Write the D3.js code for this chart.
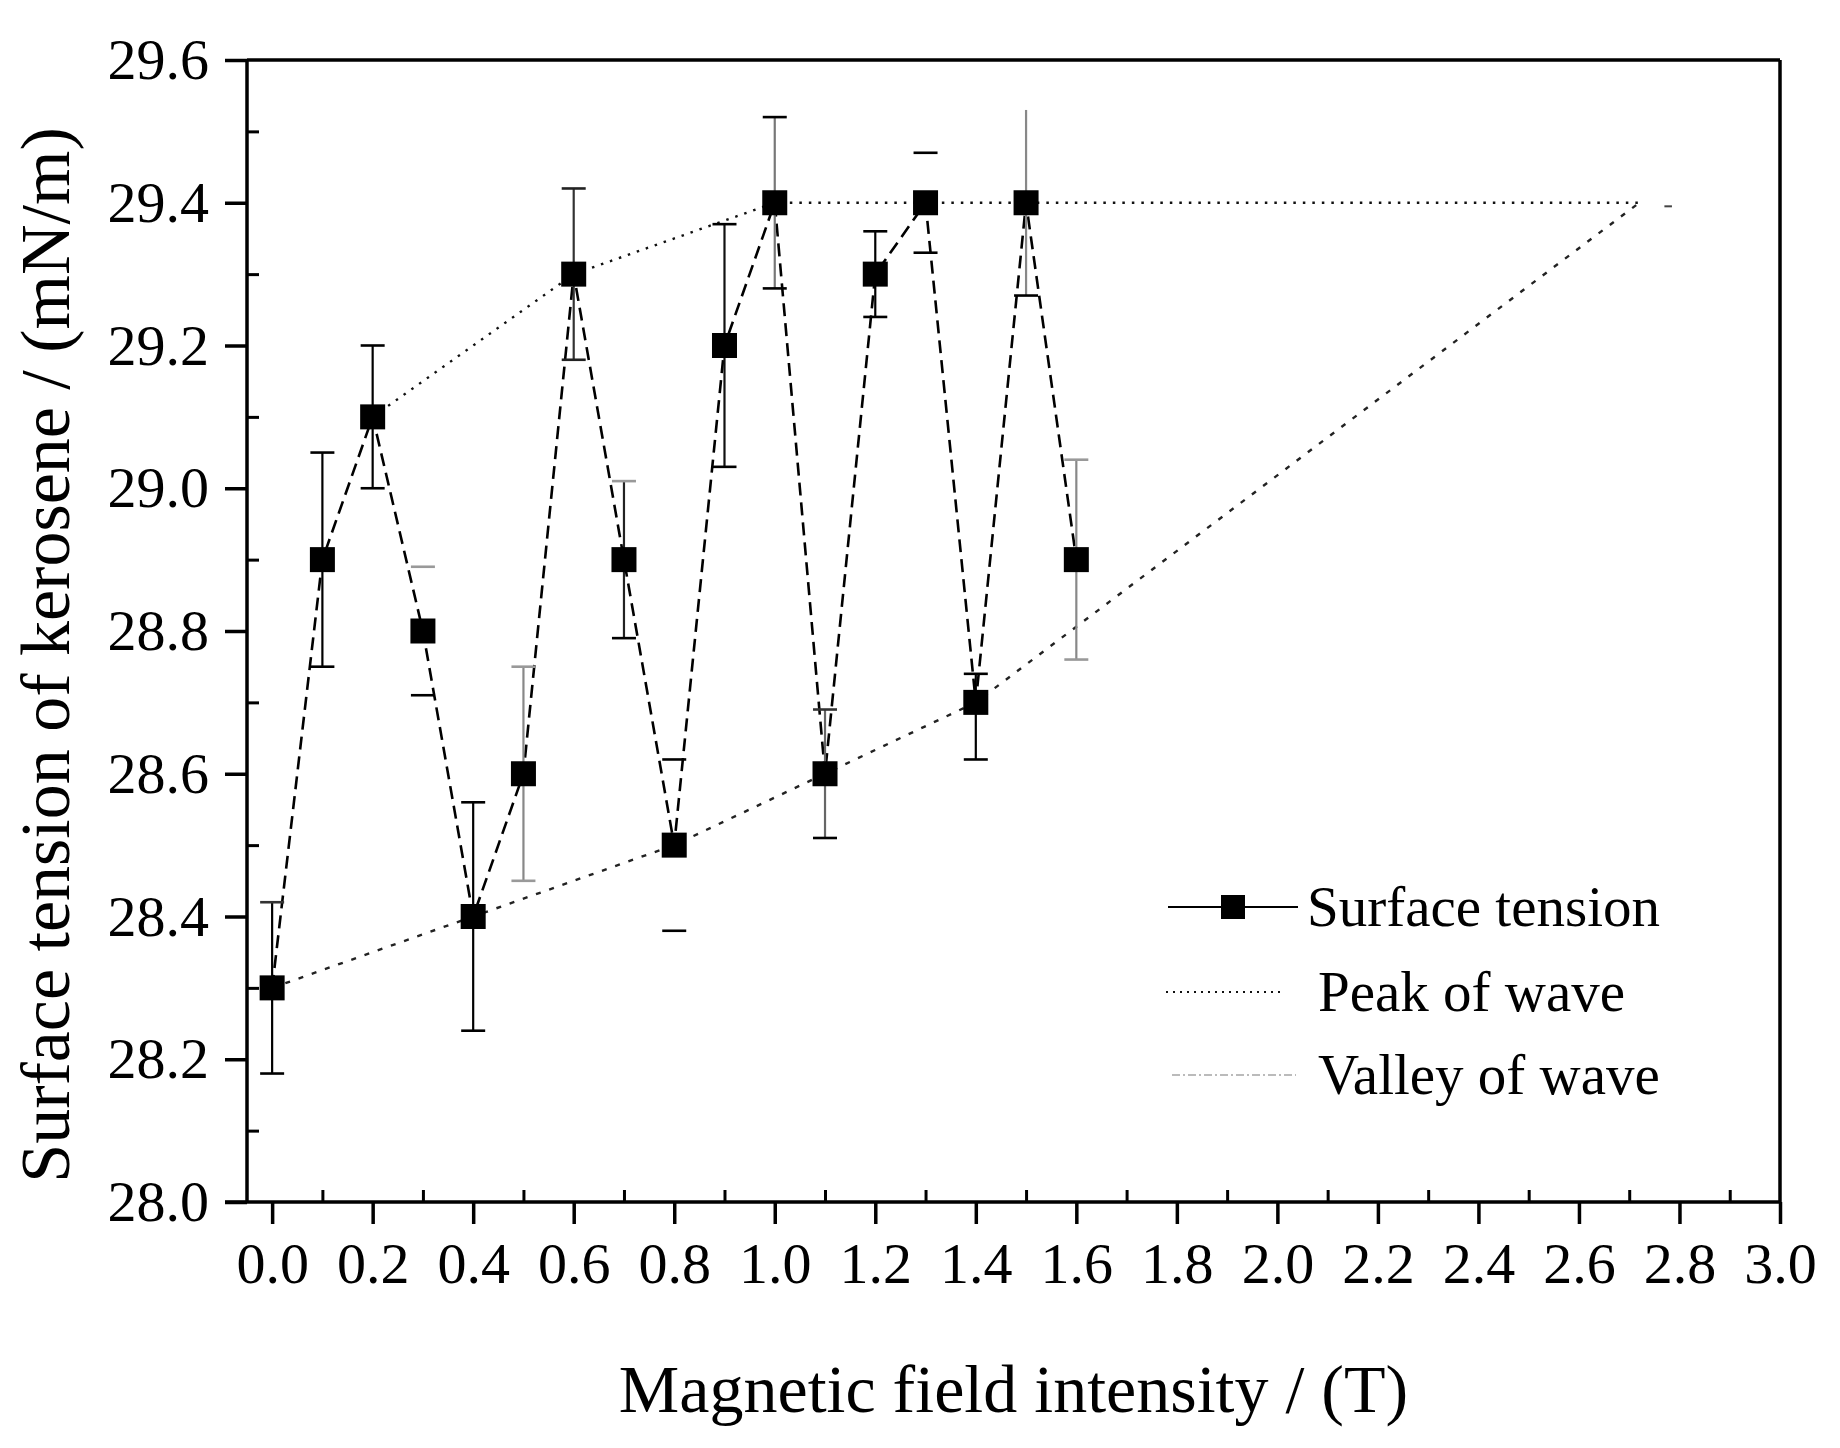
<!DOCTYPE html>
<html>
<head>
<meta charset="utf-8">
<script src="https://cdn.jsdelivr.net/npm/d3@7"></script>
<style>
  html, body { margin: 0; padding: 0; background: #fff; }
  text { font-family: "Liberation Serif", "Times New Roman", serif; fill: #000; }
</style>
</head>
<body>
<svg id="chart" width="1840" height="1448"></svg>
<script>
// ---------- data ----------
const fieldT = [0.0, 0.1, 0.2, 0.3, 0.4, 0.5, 0.6, 0.7, 0.8, 0.9, 1.0, 1.1, 1.2, 1.3, 1.4, 1.5, 1.6];
const tension = [28.3, 28.9, 29.1, 28.8, 28.4, 28.6, 29.3, 28.9, 28.5, 29.2, 29.4, 28.6, 29.3, 29.4, 28.7, 29.4, 28.9];
const errUpper = [28.42, 29.05, 29.20, 28.89, 28.56, 28.75, 29.42, 29.01, 28.62, 29.37, 29.52, 28.69, 29.36, 29.47, 28.74, 29.53, 29.04];
const errLower = [28.18, 28.75, 29.00, 28.71, 28.24, 28.45, 29.18, 28.79, 28.38, 29.03, 29.28, 28.51, 29.24, 29.33, 28.62, 29.27, 28.76];

const peakX = [0.2, 0.6, 1.0, 1.3, 1.5, 2.72];
const peakY = [29.1, 29.3, 29.4, 29.4, 29.4, 29.4];
const valleyX = [0.0, 0.4, 0.8, 1.1, 1.4, 2.72];
const valleyY = [28.3, 28.4, 28.5, 28.6, 28.7, 29.4];

const xTicks = [0.0, 0.2, 0.4, 0.6, 0.8, 1.0, 1.2, 1.4, 1.6, 1.8, 2.0, 2.2, 2.4, 2.6, 2.8, 3.0];
const xMinor = [0.1, 0.3, 0.5, 0.7, 0.9, 1.1, 1.3, 1.5, 1.7, 1.9, 2.1, 2.3, 2.5, 2.7, 2.9];
const yTicks = [28.0, 28.2, 28.4, 28.6, 28.8, 29.0, 29.2, 29.4, 29.6];
const yMinor = [28.1, 28.3, 28.5, 28.7, 28.9, 29.1, 29.3, 29.5];

const legendLabels = ["Surface tension", "Peak of wave", "Valley of wave"];
const xTitle = "Magnetic field intensity / (T)";
const yTitle = "Surface tension of kerosene / (mN/m)";

// ---------- styles (per error bar) ----------
const errLineColor = ["#000", "#000", "#000", "none", "#000", "#888", "#333", "#222", "none", "#111", "#777", "#666", "#000", "none", "#000", "#888", "#888"];
const errTopCapColor = ["#333", "#000", "#000", "#999", "#000", "#999", "#222", "#999", "#000", "#000", "#000", "#333", "#000", "#000", "#000", "none", "#999"];
const errBotCapColor = ["#000", "#000", "#000", "#000", "#000", "#999", "#222", "#000", "#000", "#000", "#000", "#000", "#000", "#000", "#000", "#000", "#999"];

// ---------- layout ----------
const L = 247, R = 1780, T = 60, B = 1202;
const svg = d3.select("#chart");
const x = d3.scaleLinear().domain([-0.05, 3.0]).range([L, R]);
const y = d3.scaleLinear().domain([28.0, 29.6]).range([B, T]);

// peak & valley guide lines
const peakData = peakX.map((v, i) => [v, peakY[i]]);
const valleyData = valleyX.map((v, i) => [v, valleyY[i]]);
const lineGen = d3.line().x(d => x(d[0])).y(d => y(d[1]));

svg.append("path").attr("d", lineGen(valleyData))
  .attr("fill", "none").attr("stroke", "#222").attr("stroke-width", 2.4)
  .attr("stroke-dasharray", "5,9");
svg.append("path").attr("d", lineGen(peakData))
  .attr("fill", "none").attr("stroke", "#111").attr("stroke-width", 2.4)
  .attr("stroke-dasharray", "2.5,7");
// small tail dash at 2.8
svg.append("line").attr("x1", x(2.77)).attr("x2", x(2.785))
  .attr("y1", y(29.395)).attr("y2", y(29.395))
  .attr("stroke", "#444").attr("stroke-width", 2);

// main dashed line
const mainData = fieldT.map((v, i) => [v, tension[i]]);
svg.append("path").attr("d", lineGen(mainData))
  .attr("fill", "none").attr("stroke", "#000").attr("stroke-width", 2.6)
  .attr("stroke-dasharray", "13,7");

// error bars
const capW = 12;
const eb = svg.append("g");
fieldT.forEach((v, i) => {
  const cx = x(v);
  eb.append("line").attr("x1", cx).attr("x2", cx)
    .attr("y1", y(errUpper[i])).attr("y2", y(errLower[i]))
    .attr("stroke", errLineColor[i]).attr("stroke-width", 2.2);
  eb.append("line").attr("x1", cx - capW).attr("x2", cx + capW)
    .attr("y1", y(errUpper[i])).attr("y2", y(errUpper[i]))
    .attr("stroke", errTopCapColor[i]).attr("stroke-width", 2.6);
  eb.append("line").attr("x1", cx - capW).attr("x2", cx + capW)
    .attr("y1", y(errLower[i])).attr("y2", y(errLower[i]))
    .attr("stroke", errBotCapColor[i]).attr("stroke-width", 2.6);
});

// markers
const ms = 25;
svg.append("g").selectAll("rect").data(mainData).join("rect")
  .attr("x", d => x(d[0]) - ms / 2).attr("y", d => y(d[1]) - ms / 2)
  .attr("width", ms).attr("height", ms).attr("fill", "#000");

// frame
const frame = svg.append("g");
frame.append("line").attr("x1", L).attr("x2", R).attr("y1", T).attr("y2", T).attr("stroke", "#000").attr("stroke-width", 3.5);
frame.append("line").attr("x1", R).attr("x2", R).attr("y1", T).attr("y2", B).attr("stroke", "#000").attr("stroke-width", 3.5);

// x axis
const xAxis = d3.axisBottom(x).tickValues(xTicks).tickSize(22).tickPadding(18)
  .tickFormat(d3.format(".1f"));
const gx = svg.append("g").attr("transform", `translate(0,${B})`).call(xAxis);
gx.select(".domain").attr("d", `M${L - 22},0H${R}`).attr("stroke-width", 3.5);
gx.selectAll(".tick line").attr("stroke-width", 3.5);
gx.selectAll(".tick text").attr("font-size", 58).attr("font-family", "Liberation Serif").attr("dy", "0.71em");
const xMinorAxis = d3.axisBottom(x).tickValues(xMinor).tickSize(-12).tickFormat("");
const gxm = svg.append("g").attr("transform", `translate(0,${B})`).call(xMinorAxis);
gxm.select(".domain").remove();
gxm.selectAll(".tick line").attr("stroke-width", 3);

// y axis
const yAxis = d3.axisLeft(y).tickValues(yTicks).tickSize(22).tickPadding(16)
  .tickFormat(d3.format(".1f"));
const gy = svg.append("g").attr("transform", `translate(${L},0)`).call(yAxis);
gy.select(".domain").attr("d", `M0,${T}V${B}`).attr("stroke-width", 3.5);
gy.selectAll(".tick line").attr("stroke-width", 3.5);
gy.selectAll(".tick text").attr("font-size", 58).attr("font-family", "Liberation Serif");
const yMinorAxis = d3.axisLeft(y).tickValues(yMinor).tickSize(-12).tickFormat("");
const gym = svg.append("g").attr("transform", `translate(${L},0)`).call(yMinorAxis);
gym.select(".domain").remove();
gym.selectAll(".tick line").attr("stroke-width", 3);

// axis titles
svg.append("text").attr("x", (L + R) / 2).attr("y", 1412)
  .attr("text-anchor", "middle").attr("font-size", 68).text(xTitle);
svg.append("text").attr("transform", `translate(69,${(T + B) / 2 + 24}) rotate(-90)`)
  .attr("text-anchor", "middle").attr("font-size", 70).text(yTitle);

// legend
const leg = svg.append("g");
const legY = [907, 992, 1075];
// surface tension
leg.append("line").attr("x1", 1168).attr("x2", 1298).attr("y1", legY[0]).attr("y2", legY[0])
  .attr("stroke", "#000").attr("stroke-width", 2.2);
leg.append("rect").attr("x", 1233 - 12).attr("y", legY[0] - 12).attr("width", 24).attr("height", 24).attr("fill", "#000");
// peak
leg.append("line").attr("x1", 1166).attr("x2", 1284).attr("y1", legY[1]).attr("y2", legY[1])
  .attr("stroke", "#111").attr("stroke-width", 1.8).attr("stroke-dasharray", "2,5");
// valley
leg.append("line").attr("x1", 1172).attr("x2", 1296).attr("y1", legY[2]).attr("y2", legY[2])
  .attr("stroke", "#bbb").attr("stroke-width", 1.8).attr("stroke-dasharray", "8,3,2,3");
const legX = [1307, 1318, 1318];
legendLabels.forEach((t, i) => {
  leg.append("text").attr("x", legX[i]).attr("y", legY[i]).attr("dy", "0.33em")
    .attr("font-size", 57).text(t);
});
</script>
</body>
</html>
